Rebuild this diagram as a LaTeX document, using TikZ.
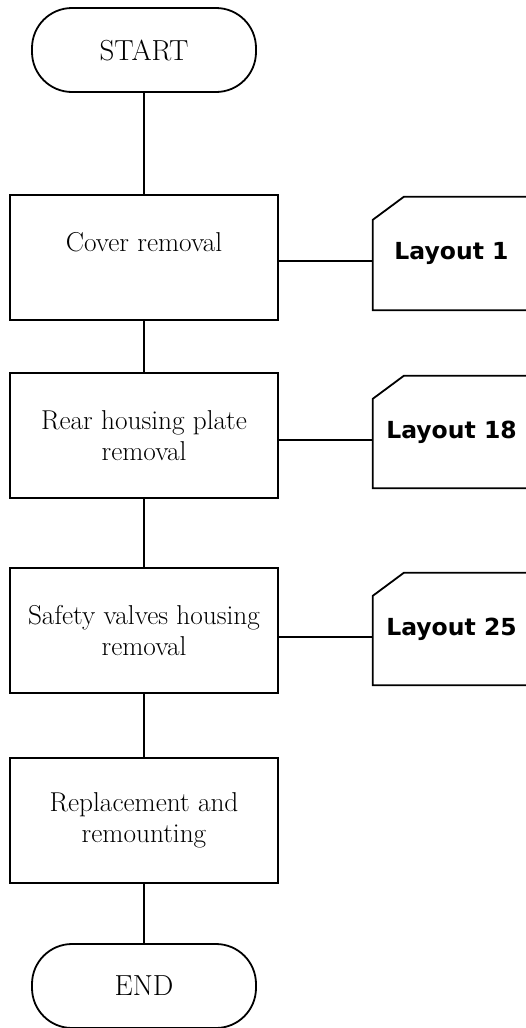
\documentclass[tikz,border=0pt]{standalone}
\usepackage{fontspec}
\newfontfamily\layfont{DejaVu Sans}
\begin{document}
\begin{tikzpicture}[x=1pt,y=-1pt,
  box/.style={draw,line width=2pt,minimum width=268pt,minimum height=125pt,inner sep=0pt,align=center,font=\fontsize{27.3}{31.5}\selectfont},
  term/.style={draw,line width=1.8pt,rounded corners=40pt,minimum width=224pt,minimum height=84pt,inner sep=0pt,font=\fontsize{29}{33}\selectfont},
  lay/.style={inner sep=0pt,minimum width=157pt,font=\layfont\bfseries\fontsize{23.5}{28}\selectfont},
  layline/.style={line width=1.8pt,line join=miter},
  link/.style={line width=1.6pt}]
\useasboundingbox (0,0) rectangle (526,1028);
% flow nodes
\node[term] (start) at (144,50) {START};
\node[box] (cover) at (144,257.5) {Cover removal\\\mbox{}};
\node[box] (rear) at (144,435.5) {Rear housing plate\\removal};
\node[box] (safety) at (144,630.5) {Safety valves housing\\removal};
\node[box] (repl) at (144,820.5) {Replacement and\\remounting};
\node[term] (end) at (144,986) {END};
% layout references
\node[lay,minimum height=113pt] (lay1) at (451.5,253.5) {Layout 1};
\node[lay,minimum height=112pt] (lay18) at (451.5,432) {Layout 18};
\node[lay,minimum height=112pt] (lay25) at (451.5,629) {Layout 25};
\foreach \n in {lay1,lay18,lay25}{
  \draw[layline] (\n.north east) -- ([xshift=31pt]\n.north west) -- ([yshift=-23pt]\n.north west) -- (\n.south west) -- (\n.south east);
}
% vertical connectors
\draw[link] (start.south) -- (cover.north);
\draw[link] (cover.south) -- (rear.north);
\draw[link] (rear.south) -- (safety.north);
\draw[link] (safety.south) -- (repl.north);
\draw[link] (repl.south) -- (end.north);
% horizontal connectors
\coordinate (h1) at (0,261);
\coordinate (h18) at (0,440);
\coordinate (h25) at (0,637);
\draw[link] (cover.east |- h1) -- (lay1.west |- h1);
\draw[link] (rear.east |- h18) -- (lay18.west |- h18);
\draw[link] (safety.east |- h25) -- (lay25.west |- h25);
\end{tikzpicture}
\end{document}
